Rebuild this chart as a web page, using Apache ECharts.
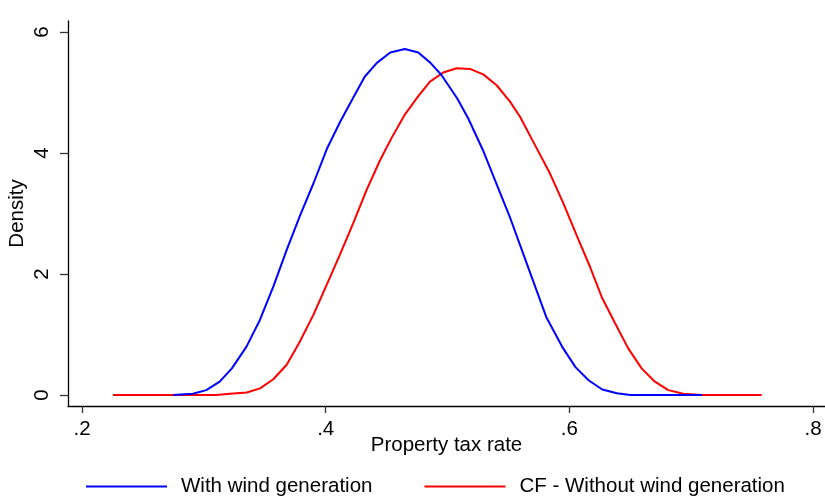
<!DOCTYPE html>
<html>
<head>
<meta charset="utf-8">
<script src="https://cdn.jsdelivr.net/npm/echarts@6/dist/echarts.min.js"></script>
<style>html,body{margin:0;padding:0;background:#fff}#c{width:825px;height:498px}</style>
</head>
<body>
<div id="c"></div>
<script>
const seriesNames = ["With wind generation", "CF - Without wind generation"];
const blueX = [0.275,0.291,0.302,0.313,0.323,0.335,0.346,0.357,0.368,0.379,0.390,0.401,0.412,0.423,0.432,0.442,0.453,0.465,0.476,0.486,0.495,0.508,0.517,0.529,0.540,0.551,0.562,0.570,0.581,0.594,0.605,0.616,0.627,0.639,0.650,0.709];
const blueY = [0,0.02,0.08,0.22,0.44,0.80,1.24,1.79,2.40,2.97,3.50,4.07,4.52,4.93,5.26,5.49,5.66,5.72,5.66,5.49,5.29,4.90,4.57,4.05,3.50,2.95,2.34,1.90,1.29,0.80,0.46,0.24,0.09,0.03,0.0,0.0];
const redX = [0.2254,0.310,0.3215,0.3352,0.3461,0.3570,0.3680,0.3782,0.3898,0.4008,0.4117,0.4226,0.4336,0.4446,0.4541,0.4651,0.4760,0.4856,0.4965,0.5075,0.5184,0.5293,0.5403,0.5513,0.5595,0.5718,0.5841,0.5950,0.6060,0.6169,0.6265,0.6374,0.6483,0.6593,0.6702,0.6812,0.6935,0.7086,0.7578];
const redY = [0,0,0.02,0.04,0.11,0.26,0.50,0.86,1.32,1.82,2.32,2.84,3.39,3.88,4.25,4.64,4.94,5.18,5.33,5.40,5.39,5.30,5.12,4.85,4.60,4.13,3.66,3.17,2.64,2.12,1.62,1.19,0.77,0.44,0.22,0.08,0.02,0,0];
const xTicks = [0.2, 0.4, 0.6, 0.8];
const yTicks = [0, 2, 4, 6];
const xTitle = "Property tax rate";
const yTitle = "Density";

const font = "'Liberation Sans', Arial, sans-serif";
const fs = 20.5;
const chart = echarts.init(document.getElementById('c'), null, {renderer: 'canvas'});
const zip = (xs, ys) => xs.map((x, i) => [x, ys[i]]);
const fmt = v => String(+v.toFixed(2)).replace(/^0\./, '.');
chart.setOption({
  animation: false,
  backgroundColor: '#fff',
  grid: {left: 68, right: 0, top: 21, bottom: 92, containLabel: false, outerBoundsMode: 'none'},
  legend: {
    left: 81, top: 471,
    itemWidth: 81, itemHeight: 2, itemGap: 52,
    icon: 'rect',
    textStyle: {fontFamily: font, fontSize: fs, color: '#000', padding: [0, 0, 0, 9]},
    data: seriesNames
  },
  xAxis: {
    type: 'value', min: 0.1885, max: 0.8098,
    name: xTitle, nameLocation: 'middle', nameGap: 29, nameMoveOverlap: false,
    nameTextStyle: {fontFamily: font, fontSize: fs, color: '#000'},
    axisLine: {onZero: false, lineStyle: {color: '#000', width: 1.3}},
    axisTick: {show: true, length: 7, lineStyle: {color: '#333', width: 1.3}, customValues: xTicks},
    axisLabel: {fontFamily: font, fontSize: fs, color: '#000', margin: 13, customValues: xTicks, formatter: fmt},
    splitLine: {show: false}
  },
  yAxis: {
    type: 'value', min: -0.182, max: 6.182,
    name: yTitle, nameLocation: 'middle', nameGap: 40, nameRotate: 90, nameMoveOverlap: false,
    nameTextStyle: {fontFamily: font, fontSize: fs, color: '#000'},
    axisLine: {show: true, onZero: false, lineStyle: {color: '#000', width: 1.3}},
    axisTick: {show: true, length: 8, lineStyle: {color: '#333', width: 1.3}, customValues: yTicks},
    axisLabel: {fontFamily: font, fontSize: fs, color: '#000', margin: 15, rotate: 90, customValues: yTicks, formatter: v => String(v)},
    splitLine: {show: false}
  },
  series: [
    {name: seriesNames[1], type: 'line', data: zip(redX, redY), showSymbol: false, smooth: false,
     lineStyle: {color: '#ff0000', width: 2}, itemStyle: {color: '#ff0000'}, z: 2},
    {name: seriesNames[0], type: 'line', data: zip(blueX, blueY), showSymbol: false, smooth: false,
     lineStyle: {color: '#0000ff', width: 2}, itemStyle: {color: '#0000ff'}, z: 3}
  ]
});
</script>
</body>
</html>
